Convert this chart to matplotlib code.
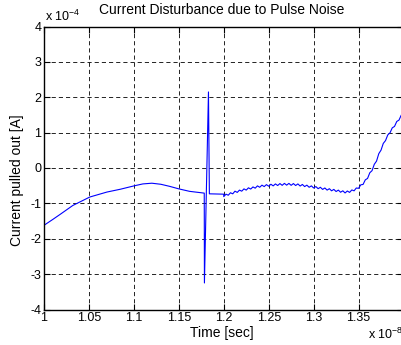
import matplotlib
matplotlib.use("Agg")
import numpy as np
import matplotlib.pyplot as plt
from matplotlib.ticker import FuncFormatter

plt.rcParams["font.family"] = ["Liberation Sans", "DejaVu Sans"]
plt.rcParams["axes.unicode_minus"] = False

# ---- data (time in 1e-8 s, current in 1e-4 A) ----
# smooth part before the pulse
t_pre = [1.000, 1.010, 1.018, 1.032, 1.051, 1.070, 1.085, 1.101, 1.110, 1.120,
         1.130, 1.140, 1.150, 1.162, 1.1783]
i_pre = [-1.62, -1.45, -1.31, -1.06, -0.82, -0.68, -0.60, -0.50, -0.45, -0.43,
         -0.46, -0.52, -0.59, -0.66, -0.71]

# the pulse itself
t_pulse = [1.1785, 1.1830, 1.1840, 1.2000]
i_pulse = [-3.25, 2.15, -0.73, -0.74]

# rippled part after the pulse
t_post = [1.2000, 1.2025, 1.2050, 1.2075, 1.2100, 1.2125, 1.2150, 1.2175, 1.2200, 1.2225,
          1.2250, 1.2275, 1.2300, 1.2325, 1.2350, 1.2375, 1.2400, 1.2425, 1.2450, 1.2475,
          1.2500, 1.2525, 1.2550, 1.2575, 1.2600, 1.2625, 1.2650, 1.2675, 1.2700, 1.2725,
          1.2750, 1.2775, 1.2800, 1.2825, 1.2850, 1.2875, 1.2900, 1.2925, 1.2950, 1.2975,
          1.3000, 1.3025, 1.3050, 1.3075, 1.3100, 1.3125, 1.3150, 1.3175, 1.3200, 1.3225,
          1.3250, 1.3275, 1.3300, 1.3325, 1.3350, 1.3375, 1.3400, 1.3425, 1.3450, 1.3475,
          1.3500, 1.3525, 1.3550, 1.3575, 1.3600, 1.3625, 1.3650, 1.3675, 1.3700, 1.3725,
          1.3750, 1.3775, 1.3800, 1.3825, 1.3850, 1.3875, 1.3900, 1.3925, 1.3950, 1.3975,
          1.4000]
i_post = [-0.81, -0.74, -0.77, -0.70, -0.73, -0.655, -0.69, -0.625, -0.655, -0.59,
          -0.625, -0.56, -0.595, -0.535, -0.57, -0.505, -0.545, -0.485, -0.525, -0.47,
          -0.515, -0.46, -0.505, -0.45, -0.495, -0.44, -0.49, -0.435, -0.485, -0.435,
          -0.49, -0.44, -0.495, -0.45, -0.51, -0.465, -0.525, -0.485, -0.545, -0.505,
          -0.565, -0.525, -0.585, -0.545, -0.605, -0.565, -0.625, -0.585, -0.645, -0.605,
          -0.665, -0.625, -0.685, -0.645, -0.705, -0.65, -0.69, -0.62, -0.645, -0.565,
          -0.575, -0.475, -0.465, -0.335, -0.295, -0.135, -0.075, 0.105, 0.195, 0.405,
          0.505, 0.695, 0.775, 0.935, 0.995, 1.135, 1.175, 1.315, 1.355, 1.495,
          1.535]

t = np.array(t_pre + t_pulse + t_post) * 1e-8
cur = np.array(i_pre + i_pulse + i_post) * 1e-4

xticks = [1.0, 1.05, 1.1, 1.15, 1.2, 1.25, 1.3, 1.35]
yticks = [-4, -3, -2, -1, 0, 1, 2, 3, 4]

W, H = 402, 345
fig = plt.figure(figsize=(W / 100, H / 100), dpi=100)
ax = fig.add_axes([44 / W, 1 - 309.5 / H, (403.5 - 44) / W, (309.5 - 26.5) / H])

ax.plot(t / 1e-8, cur / 1e-4, color="#0000ff", lw=0.8)

ax.set_xlim(1.0, 1.4)
ax.set_ylim(-4, 4)
ax.set_xticks(xticks)
ax.set_yticks(yticks)
ax.xaxis.set_major_formatter(FuncFormatter(lambda v, p: "%g" % v))
ax.yaxis.set_major_formatter(FuncFormatter(lambda v, p: "%g" % v))
ax.tick_params(direction="in", length=4, width=0.8, labelsize=9, pad=2,
               top=True, right=True, colors="black")
ax.grid(True, color="black", lw=0.6, linestyle=(0, (5, 3.6)))
for s in ax.spines.values():
    s.set_linewidth(1.0)
    s.set_color("black")

fig.text(222 / W, 1 - 10 / H, "Current Disturbance due to Pulse Noise",
         ha="center", va="center", fontsize=10)
fig.text(45 / W, 1 - 16 / H, r"x 10$^{\mathregular{-4}}$", ha="left", va="center",
         fontsize=9)
fig.text(222 / W, 1 - 333 / H, "Time [sec]", ha="center", va="center", fontsize=10)
fig.text(368 / W, 1 - 334 / H, r"x 10$^{\mathregular{-8}}$", ha="left", va="center",
         fontsize=9)
fig.text(17 / W, 1 - 180 / H, "Current pulled out [A]", ha="center", va="center",
         rotation=90, fontsize=10)

fig.savefig("out.png", dpi=100)
